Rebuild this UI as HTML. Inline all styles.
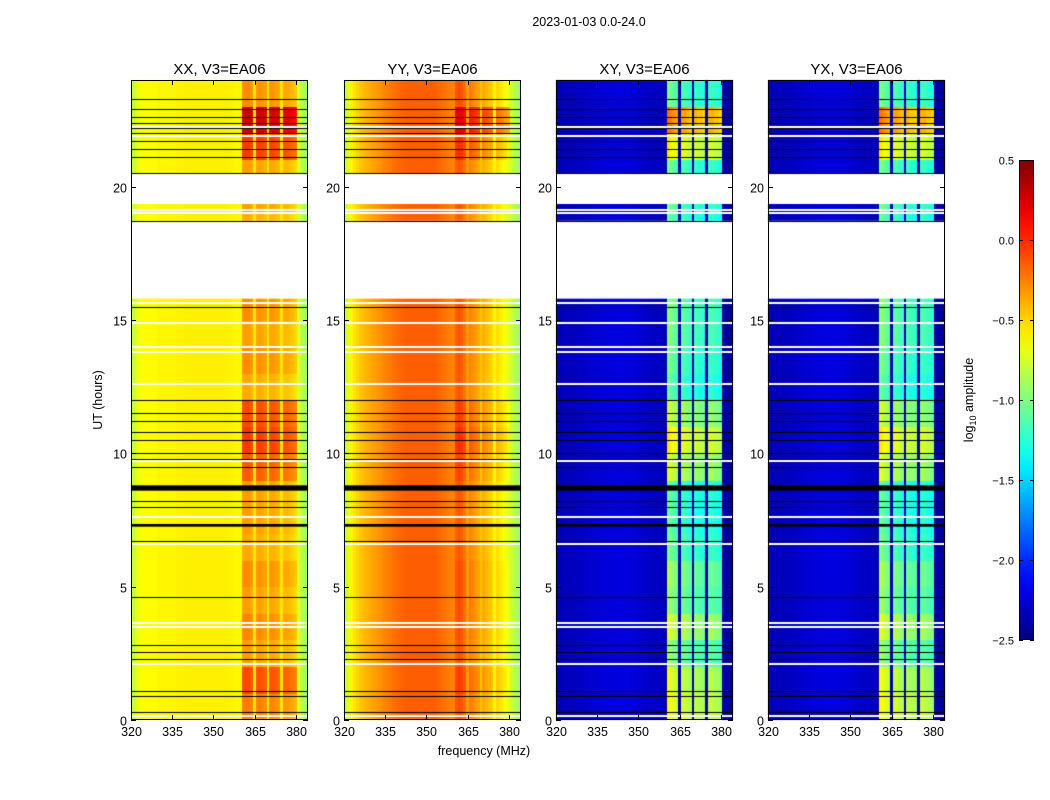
<!DOCTYPE html>
<html><head><meta charset="utf-8"><style>
body{margin:0;background:#fff;width:1050px;height:800px;overflow:hidden;position:relative;font-family:"Liberation Sans",sans-serif}
canvas{position:absolute}
svg{position:absolute;left:0;top:0}
</style></head><body>
<div id="plots"></div>
<svg id="ov" width="1050" height="800"></svg>
<script>
// ---- data ----
const freqs = []; for (let f = 320; f <= 384; f++) freqs.push(f);
const bandStart = 361, bandEnd = 380;
const gapFreqs = [365, 370, 375];
const profXX = [-0.88,-0.8,-0.72,-0.67,-0.64,-0.62,-0.62,-0.62,-0.62,-0.62,-0.6,-0.6,-0.6,-0.6,-0.6,-0.6,-0.6,-0.59,-0.59,-0.59,-0.58,-0.58,-0.58,-0.58,-0.58,-0.58,-0.58,-0.58,-0.58,-0.58,-0.58,-0.58,-0.58,-0.58,-0.58,-0.58,-0.59,-0.59,-0.6,-0.6,-0.6,-0.4,-0.38,-0.38,-0.42,-0.55,-0.42,-0.4,-0.42,-0.45,-0.55,-0.42,-0.42,-0.45,-0.47,-0.55,-0.47,-0.47,-0.5,-0.52,-0.56,-0.72,-0.8,-0.87,-0.92];
const profYY = [-0.9,-0.78,-0.68,-0.6,-0.55,-0.5,-0.47,-0.44,-0.41,-0.39,-0.37,-0.35,-0.33,-0.31,-0.29,-0.27,-0.25,-0.23,-0.21,-0.2,-0.18,-0.17,-0.16,-0.15,-0.15,-0.15,-0.15,-0.15,-0.15,-0.15,-0.15,-0.15,-0.15,-0.15,-0.16,-0.18,-0.2,-0.22,-0.24,-0.25,-0.26,-0.18,-0.14,-0.17,-0.24,-0.33,-0.28,-0.32,-0.36,-0.4,-0.45,-0.42,-0.46,-0.5,-0.53,-0.6,-0.56,-0.6,-0.64,-0.68,-0.73,-0.78,-0.83,-0.87,-0.92];
const profXY = [-2.4,-2.35,-2.35,-2.32,-2.32,-2.32,-2.32,-2.32,-2.3,-2.3,-2.3,-2.28,-2.28,-2.26,-2.26,-2.25,-2.25,-2.24,-2.24,-2.23,-2.23,-2.22,-2.22,-2.22,-2.22,-2.22,-2.22,-2.23,-2.23,-2.24,-2.25,-2.26,-2.27,-2.28,-2.28,-2.3,-2.3,-2.3,-2.3,-2.32,-2.32,-1.05,-1.1,-1.15,-1.2,-2.35,-1.2,-1.2,-1.25,-1.3,-2.35,-1.25,-1.3,-1.3,-1.35,-2.35,-1.25,-1.25,-1.3,-1.3,-1.35,-2.4,-2.4,-2.4,-2.4];
const profYX = profXY.slice();
const boostXX = [0.15,0.3,0.05,0.12,0.05,0.1,0.02,0.05,0.05,0.25,0.35,0.3,0.02,0.1,0.05,0.1,0,0,0,0.05,0.05,0.35,0.65,0.1];
const boostYY = [0.05,0.1,0.03,0.05,0.05,0.05,0.02,0.02,0.02,0.08,0.15,0.1,0.02,0.03,0.03,0.03,0,0,0,0.03,0.03,0.15,0.35,0.05];
const boostXY = [0.45,0.4,0.15,0.35,0.15,0.2,0.05,0.0,0.0,0.35,0.5,0.3,0.0,0.05,0.1,0.1,0,0,0,0.05,0.05,0.5,0.85,0.05];
const whiteSpans = [[15.8,18.72],[19.35,20.5]];
const whiteLines = [0.15,2.1,3.5,3.65,6.6,7.6,9.7,12.6,13.8,14.0,14.9,15.62,19.0,19.12,21.9,22.25];
const blackLines = [0.3,0.9,1.1,2.3,2.55,2.8,4.6,6.7,7.3,8.0,8.2,9.5,9.8,10.0,10.5,10.8,11.2,11.5,12.0,15.5,18.72,20.5,21.1,21.4,21.7,22.0,22.2,22.4,22.6,22.9,23.3];
const thickBlack = [[8.6,8.8],[7.25,7.35]];
const xTicks = [320,335,350,365,380];
const yTicks = [0,5,10,15,20];
const cbTicks = [0.5,0.0,-0.5,-1.0,-1.5,-2.0,-2.5];
const panels = [
 {name:'XX',left:131,prof:profXX,boost:boostXX},
 {name:'YY',left:344,prof:profYY,boost:boostYY},
 {name:'XY',left:556,prof:profXY,boost:boostXY},
 {name:'YX',left:768,prof:profYX,boost:boostXY}
];
// ---- axes ----
const TOP=80,BOT=720,W=177,FMIN=320,FMAX=384.4,VMIN=-2.5,VMAX=0.5;
const yPix = h => BOT - h*(BOT-TOP)/24;
const xPix = (left,f) => left + (f-FMIN)/(FMAX-FMIN)*W;
function jet(v){let t=(v-VMIN)/(VMAX-VMIN);t=Math.max(0,Math.min(1,t));
 const c=x=>Math.round(255*Math.max(0,Math.min(1,x)));
 return `rgb(${c(1.5-Math.abs(4*t-3))},${c(1.5-Math.abs(4*t-2))},${c(1.5-Math.abs(4*t-1))})`;}
const plots=document.getElementById('plots');
const ov=document.getElementById('ov');
const NS='http://www.w3.org/2000/svg';
function sv(tag,attrs,txt){const e=document.createElementNS(NS,tag);for(const k in attrs)e.setAttribute(k,attrs[k]);if(txt!==undefined)e.textContent=txt;ov.appendChild(e);return e;}
const DT=0.1;
panels.forEach(p=>{
 const cv=document.createElement('canvas');
 
 
 cv.width=1050;cv.height=800;cv.style.left='0px';cv.style.top='0px';
 plots.appendChild(cv);
 const g=cv.getContext('2d');
 g.save();g.beginPath();g.rect(p.left,TOP,W,BOT-TOP);g.clip();
 for(let h=0;h<24;h+=DT){
  const hr=Math.min(23,Math.floor(h+1e-6));
  const y0=yPix(h+DT),y1=yPix(h);
  freqs.forEach((f,i)=>{
   const inBand=f>=bandStart&&f<=bandEnd&&gapFreqs.indexOf(f)<0;
   const v=p.prof[i]+(inBand?p.boost[hr]:0);
   g.fillStyle=jet(v);
   const x0=xPix(p.left,f-0.5),x1=xPix(p.left,f+0.5);
   g.fillRect(Math.floor(x0),Math.floor(y0),Math.ceil(x1)-Math.floor(x0),Math.ceil(y1)-Math.floor(y0));
  });
 }
 g.fillStyle='#fff';
 whiteSpans.forEach(s=>g.fillRect(p.left,yPix(s[1]),W,yPix(s[0])-yPix(s[1])));
 whiteLines.forEach(h=>g.fillRect(p.left,Math.round(yPix(h))-1,W,2));
 g.fillStyle='#000';
 blackLines.forEach(h=>g.fillRect(p.left,Math.round(yPix(h)),W,1));
 thickBlack.forEach(s=>g.fillRect(p.left,yPix(s[1]),W,yPix(s[0])-yPix(s[1])));
 g.restore();
 const fr=sv('rect',{x:p.left+0.5,y:TOP+0.5,width:W-1,height:BOT-TOP-1,fill:'none',stroke:'#000','stroke-width':1});
 
 
 const t=sv('text',{x:p.left+W/2,y:74,'text-anchor':'middle','font-size':15},p.name+', V3=EA06');
 
 
 xTicks.forEach(f=>{const x=Math.round(xPix(p.left,f))+0.5;
  sv('line',{x1:x,x2:x,y1:BOT,y2:BOT-5,stroke:'#000'});sv('line',{x1:x,x2:x,y1:TOP,y2:TOP+5,stroke:'#000'});
  const l=sv('text',{x:x,y:BOT+16,'text-anchor':'middle','font-size':12.5},String(f));
  
  });
 yTicks.forEach(h=>{const y=Math.round(yPix(h))+0.5;
  sv('line',{x1:p.left,x2:p.left+5,y1:y,y2:y,stroke:'#000'});sv('line',{x1:p.left+W,x2:p.left+W-5,y1:y,y2:y,stroke:'#000'});
  const l=sv('text',{x:p.left-4,y:y+5,'text-anchor':'end','font-size':12.5},String(h));
  
  });
});
let e;
e=sv('text',{x:589,y:26,'text-anchor':'middle','font-size':12.5},'2023-01-03 0.0-24.0');


e=sv('text',{x:102,y:400,'text-anchor':'middle','font-size':12.5,transform:'rotate(-90 102 400)'},'UT (hours)');


e=sv('text',{x:484,y:755,'text-anchor':'middle','font-size':12.5},'frequency (MHz)');


// colorbar
const CBX=1019,CBW=15,CBT=160,CBB=640;
const cbY=v=>CBB-(v-VMIN)/(VMAX-VMIN)*(CBB-CBT);
const defs=sv('defs',{});
const lg=document.createElementNS(NS,'linearGradient');lg.setAttribute('id','jg');lg.setAttribute('x1','0');lg.setAttribute('y1','1');lg.setAttribute('x2','0');lg.setAttribute('y2','0');
for(let i=0;i<=20;i++){const s=document.createElementNS(NS,'stop');s.setAttribute('offset',i/20);s.setAttribute('stop-color',jet(VMIN+i/20*(VMAX-VMIN)));lg.appendChild(s);}
defs.appendChild(lg);
e=sv('rect',{x:CBX+0.5,y:CBT+0.5,width:CBW-1,height:CBB-CBT-1,fill:'url(#jg)',stroke:'#000'});


cbTicks.forEach(v=>{const y=Math.round(cbY(v))+0.5;
 sv('line',{x1:CBX,x2:CBX+4,y1:y,y2:y,stroke:'#000'});sv('line',{x1:CBX+CBW,x2:CBX+CBW-4,y1:y,y2:y,stroke:'#000'});
 const l=sv('text',{x:CBX-5,y:y+4,'text-anchor':'end','font-size':11},(v<0?'\u2212':'')+Math.abs(v).toFixed(1));
 
 });
e=sv('text',{x:973,y:400,'text-anchor':'middle','font-size':12.5,transform:'rotate(-90 973 400)'});


e.innerHTML='log<tspan font-size="9" dy="3">10</tspan><tspan dy="-3"> amplitude</tspan>';
</script>
</body></html>
